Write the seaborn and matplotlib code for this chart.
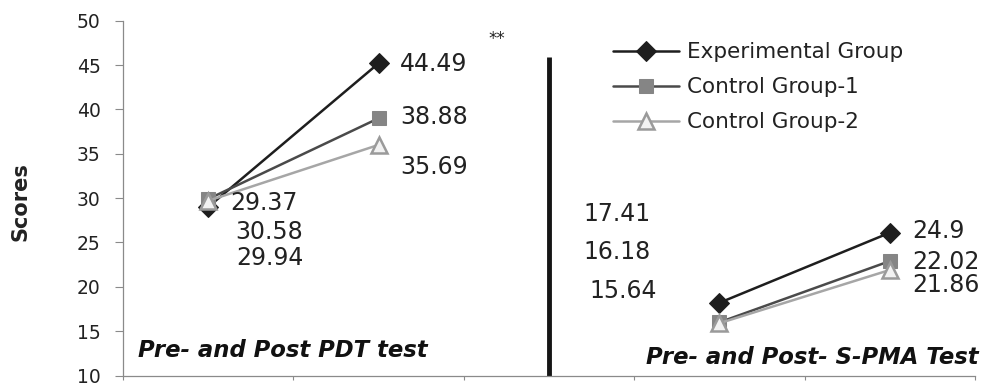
import matplotlib
matplotlib.use("Agg")
import matplotlib.pyplot as plt
import seaborn as sns

# categories on the x axis (middle slot is the gap holding the divider)
tests = ["PDT pre", "PDT post", "", "S-PMA pre", "S-PMA post"]
groups = ["Experimental Group", "Control Group-1", "Control Group-2"]

# plotted scores
pdt_scores = {
    "Experimental Group": [29.0, 45.2],
    "Control Group-1": [29.9, 39.0],
    "Control Group-2": [29.7, 36.0],
}
spma_scores = {
    "Experimental Group": [18.2, 26.1],
    "Control Group-1": [16.0, 22.9],
    "Control Group-2": [15.9, 21.9],
}

# printed value labels
pdt_pre_labels = ["29.37", "30.58", "29.94"]
pdt_post_labels = ["44.49", "38.88", "35.69"]
spma_pre_labels = ["17.41", "16.18", "15.64"]
spma_post_labels = ["24.9", "22.02", "21.86"]

styles = {
    "Experimental Group": dict(color="#1e1e1e", marker="D", markersize=10,
                               markerfacecolor="#1e1e1e", markeredgecolor="#1e1e1e"),
    "Control Group-1": dict(color="#4a4a4a", marker="s", markersize=10.5,
                            markerfacecolor="#858585", markeredgecolor="#858585"),
    "Control Group-2": dict(color="#a6a6a6", marker="^", markersize=11,
                            markerfacecolor="#f2f2f2", markeredgecolor="#9a9a9a",
                            markeredgewidth=1.8),
}

sns.set_style("white")
plt.rcParams["font.family"] = ["DejaVu Sans"]

fig = plt.figure(figsize=(9.85, 3.83), dpi=100)
ax = fig.add_axes([0.1249, 0.0195, 0.865, 0.9265])

x_pdt = [tests.index("PDT pre") + 1, tests.index("PDT post") + 1]
x_spma = [tests.index("S-PMA pre") + 1, tests.index("S-PMA post") + 1]

for g in groups:
    sns.lineplot(x=x_pdt, y=pdt_scores[g], ax=ax, linewidth=1.8, label=g,
                 legend=False, **styles[g])
    sns.lineplot(x=x_spma, y=spma_scores[g], ax=ax, linewidth=1.8,
                 legend=False, **styles[g])

# divider between the two tests
ax.vlines(tests.index("") + 1, 10, 45.9, color="#151515", linewidth=3.5)

ax.set_xlim(0.5, len(tests) + 0.5)
ax.set_ylim(10, 50)
ax.set_yticks(range(10, 51, 5))
ax.set_xticks([i + 0.5 for i in range(len(tests) + 1)])
ax.set_xticklabels([])
ax.tick_params(axis="y", direction="out", length=6, width=0.8, color="#8a8a8a",
               labelsize=13.5, labelcolor="#222222", pad=10, left=True)
ax.tick_params(axis="x", direction="out", length=3, width=0.8, color="#8a8a8a",
               bottom=True)
for side in ["top", "right"]:
    ax.spines[side].set_visible(False)
for side in ["left", "bottom"]:
    ax.spines[side].set_color("#8a8a8a")
    ax.spines[side].set_linewidth(0.9)
ax.set_xlabel("")
ax.set_ylabel("")
fig.text(0.021, 0.475, "Scores", rotation=90, fontsize=15, fontweight="bold",
         color="#222222", ha="center", va="center")

# value labels
lab_kw = dict(fontsize=17, color="#222222", va="center", ha="left")
for txt, (xx, yy) in zip(pdt_pre_labels, [(1.128, 29.5), (1.16, 26.2), (1.165, 23.2)]):
    ax.text(xx, yy, txt, **lab_kw)
for txt, (xx, yy) in zip(pdt_post_labels, [(2.126, 45.15), (2.126, 39.15), (2.126, 33.55)]):
    ax.text(xx, yy, txt, **lab_kw)
for txt, (xx, yy) in zip(spma_pre_labels, [(3.2, 28.2), (3.2, 23.9), (3.24, 19.5)]):
    ax.text(xx, yy, txt, **lab_kw)
for txt, (xx, yy) in zip(spma_post_labels, [(5.13, 26.25), (5.13, 22.8), (5.13, 20.2)]):
    ax.text(xx, yy, txt, **lab_kw)
ax.text(2.695, 47.9, "**", fontsize=12, color="#222222", ha="center", va="center")

# test names
ax.text(0.585, 12.85, "Pre- and Post PDT test",
        fontsize=16.4, fontweight="bold", fontstyle="italic", color="#111111",
        ha="left", va="center")
ax.text(5.52, 12.05, "Pre- and Post- S-PMA Test",
        fontsize=16.4, fontweight="bold", fontstyle="italic", color="#111111",
        ha="right", va="center")

handles, labels = ax.get_legend_handles_labels()
ax.legend(handles, labels, loc="upper left", bbox_to_anchor=(0.622, 0.89),
          bbox_transform=fig.transFigure, frameon=False, fontsize=15.5,
          handlelength=3.1, handletextpad=0.33, labelspacing=0.7, borderpad=0,
          borderaxespad=0, labelcolor="#222222")

fig.savefig("out.png", dpi=100)
